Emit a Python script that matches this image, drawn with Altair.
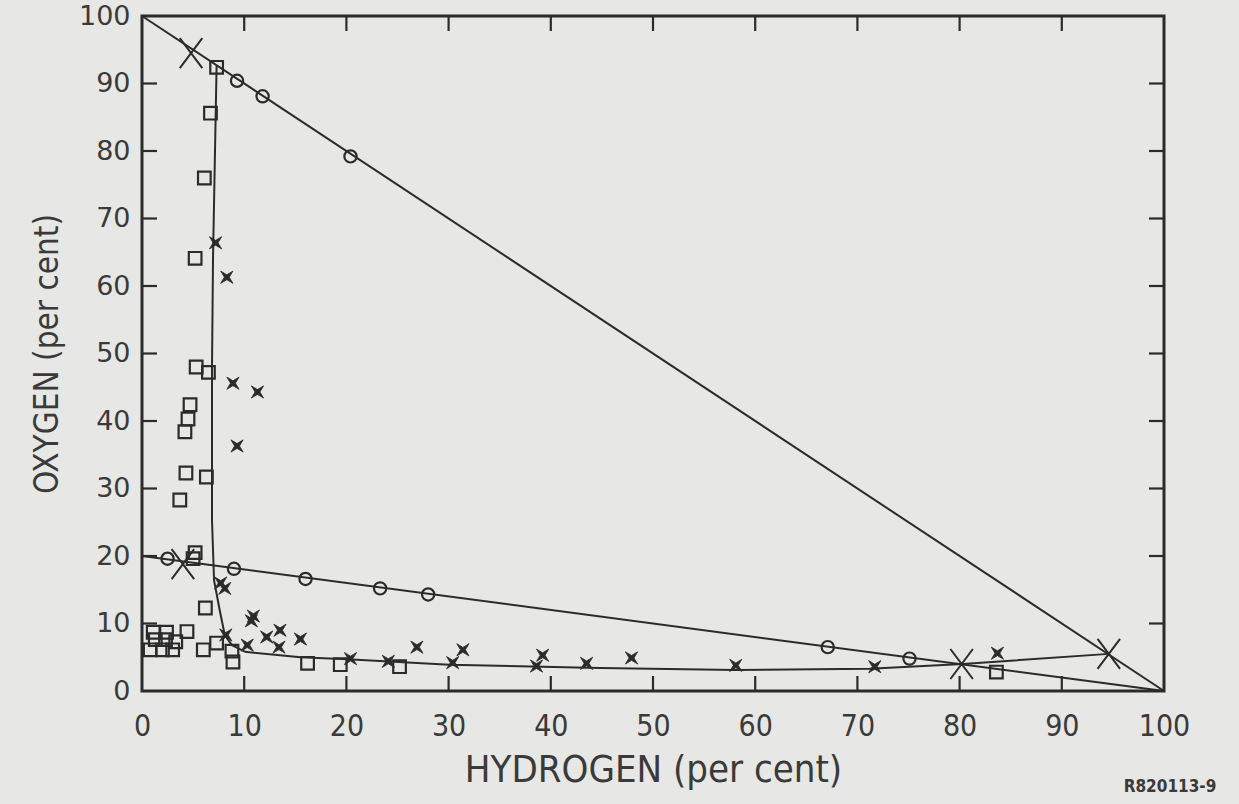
import altair as alt
import pandas as pd

# ---- data ----
circle_h = [9.3, 11.8, 20.4, 2.5, 9.0, 16.0, 23.3, 28.0, 67.1, 75.1]
circle_o = [90.4, 88.1, 79.2, 19.6, 18.1, 16.6, 15.2, 14.3, 6.5, 4.8]

square_h = [7.3, 6.7, 6.1, 5.2, 5.3, 6.5, 4.7, 4.5, 4.2, 4.3, 6.3, 3.7, 5.2, 5.0, 6.2,
            1.1, 2.4, 4.4, 1.3, 2.3, 3.3, 0.8, 2.0, 3.0, 6.0, 7.3, 8.8, 8.9,
            16.2, 19.4, 25.2, 83.6]
square_o = [92.4, 85.6, 76.0, 64.1, 48.0, 47.2, 42.4, 40.3, 38.4, 32.3, 31.7, 28.3, 20.5, 19.6, 12.3,
            8.7, 8.7, 8.8, 7.6, 7.6, 7.3, 6.1, 6.1, 6.1, 6.1, 7.1, 5.9, 4.3,
            4.1, 3.9, 3.6, 2.8]

star_h = [7.2, 8.3, 8.9, 11.3, 9.3, 7.7, 8.1, 10.9, 10.7, 12.2, 13.5, 13.4, 15.5, 10.3, 8.2,
          20.4, 24.1, 26.9, 30.4, 31.4, 38.6, 39.2, 43.5, 47.9, 58.1, 71.7, 83.7]
star_o = [66.4, 61.3, 45.6, 44.3, 36.3, 16.0, 15.2, 11.1, 10.4, 8.0, 9.0, 6.5, 7.7, 6.8, 8.3,
          4.8, 4.4, 6.5, 4.2, 6.1, 3.7, 5.3, 4.1, 4.9, 3.8, 3.6, 5.6]

limit_h = [4.8, 4.0, 80.2, 94.6]
limit_o = [94.5, 18.8, 4.0, 5.5]

diag_h = [0, 100]
diag_o = [100, 0]
air_h = [0, 100]
air_o = [20, 0]
bound_h = [7.3, 6.95, 6.85, 6.85, 6.85, 7.05, 7.6, 8.1, 8.8, 10.1, 15.5, 20.1, 30.1, 44.8, 58.1, 71.2, 80.3, 94.6]
bound_o = [92.7, 64.3, 48.0, 28.3, 25.3, 16.4, 12.0, 8.3, 6.8, 5.8, 5.0, 4.7, 3.9, 3.4, 3.1, 3.3, 4.0, 5.5]

tick_vals = [10, 20, 30, 40, 50, 60, 70, 80, 90]
axis_vals = [0, 10, 20, 30, 40, 50, 60, 70, 80, 90, 100]

W, H = 1022, 675
INK = "#2b2b2b"
TXT = "#3a3a3a"
NARROW = "Liberation Sans Narrow, DejaVu Sans Condensed, Liberation Sans"

lines = pd.concat([
    pd.DataFrame({"h": diag_h, "o": diag_o, "s": "diag", "i": range(len(diag_h))}),
    pd.DataFrame({"h": air_h, "o": air_o, "s": "air", "i": range(len(air_h))}),
    pd.DataFrame({"h": bound_h, "o": bound_o, "s": "bound", "i": range(len(bound_h))}),
])
circles = pd.DataFrame({"h": circle_h, "o": circle_o})
squares = pd.DataFrame({"h": square_h, "o": square_o})
stars = pd.DataFrame({"h": star_h, "o": star_o})
limits = pd.DataFrame({"h": limit_h, "o": limit_o})
ticks = pd.DataFrame({"t": tick_vals})

xs = alt.Scale(domain=[0, 100], nice=False, zero=False)
ys = alt.Scale(domain=[0, 100], nice=False, zero=False)

x_axis = alt.Axis(values=axis_vals, grid=False, ticks=False, domain=False,
                  labelFlush=False, labelOverlap=False,
                  labelFont=NARROW, labelFontSize=30, labelColor=TXT, labelPadding=20,
                  title="HYDROGEN (per cent)", titleFontSize=38, titleFontWeight="normal",
                  titleFont=NARROW, titleColor=TXT, titlePadding=10)
y_axis = alt.Axis(values=axis_vals, grid=False, ticks=False, domain=False,
                  labelFlush=False, labelOverlap=False,
                  labelFont="DejaVu Sans", labelFontSize=27, labelColor=TXT, labelPadding=12,
                  title="OXYGEN (per cent)", titleFontSize=33, titleFontWeight="normal",
                  titleFont=NARROW, titleColor=TXT, titlePadding=14)

X = alt.X("h:Q", scale=xs, axis=x_axis)
Y = alt.Y("o:Q", scale=ys, axis=y_axis)

line_layer = alt.Chart(lines).mark_line(color=INK, strokeWidth=2).encode(
    x=X, y=Y, detail="s:N", order="i:Q")

circle_layer = alt.Chart(circles).mark_point(
    shape="circle", filled=False, color=INK, strokeWidth=2.2, size=150, opacity=1).encode(
    x="h:Q", y="o:Q")

square_layer = alt.Chart(squares).mark_point(
    shape="square", filled=False, color=INK, strokeWidth=2.2, size=160, opacity=1).encode(
    x="h:Q", y="o:Q")

star_layer = alt.Chart(stars).mark_point(
    shape="M-1,-1L0,-0.4L1,-1L0.4,0L1,1L0,0.4L-1,1L-0.4,0Z",
    filled=True, color=INK, size=150, opacity=1, strokeWidth=0.8, stroke=INK).encode(
    x="h:Q", y="o:Q")

limit_layer = alt.Chart(limits).mark_point(
    shape="M-0.75,-1L0.75,1M-0.75,1L0.75,-1",
    filled=False, color=INK, strokeWidth=2, size=900, opacity=1).encode(
    x="h:Q", y="o:Q")

TL = 15
tick_b = alt.Chart(ticks).mark_rule(color=INK, strokeWidth=2.2).encode(
    x=alt.X("t:Q", scale=xs), y=alt.value(H), y2=alt.value(H - TL))
tick_t = alt.Chart(ticks).mark_rule(color=INK, strokeWidth=2.2).encode(
    x=alt.X("t:Q", scale=xs), y=alt.value(0), y2=alt.value(TL))
tick_l = alt.Chart(ticks).mark_rule(color=INK, strokeWidth=2.2).encode(
    y=alt.Y("t:Q", scale=ys), x=alt.value(0), x2=alt.value(TL))
tick_r = alt.Chart(ticks).mark_rule(color=INK, strokeWidth=2.2).encode(
    y=alt.Y("t:Q", scale=ys), x=alt.value(W), x2=alt.value(W - TL))

code_text = alt.Chart(pd.DataFrame({"t": ["R820113-9"]})).mark_text(
    font=NARROW, fontSize=17, fontWeight="bold", color=TXT, align="center", baseline="middle").encode(
    text="t:N", x=alt.value(1028), y=alt.value(771))

chart = alt.layer(
    line_layer, tick_b, tick_t, tick_l, tick_r,
    circle_layer, square_layer, star_layer, limit_layer, code_text
).properties(
    width=W, height=H,
    autosize=alt.AutoSizeParams(type="none"),
    padding={"left": 142, "top": 16, "right": 75, "bottom": 113},
    background="#e7e7e5",
).configure_view(
    stroke=INK, strokeWidth=3
)

chart.save("out.html", embed_options={"renderer": "svg", "actions": False})
